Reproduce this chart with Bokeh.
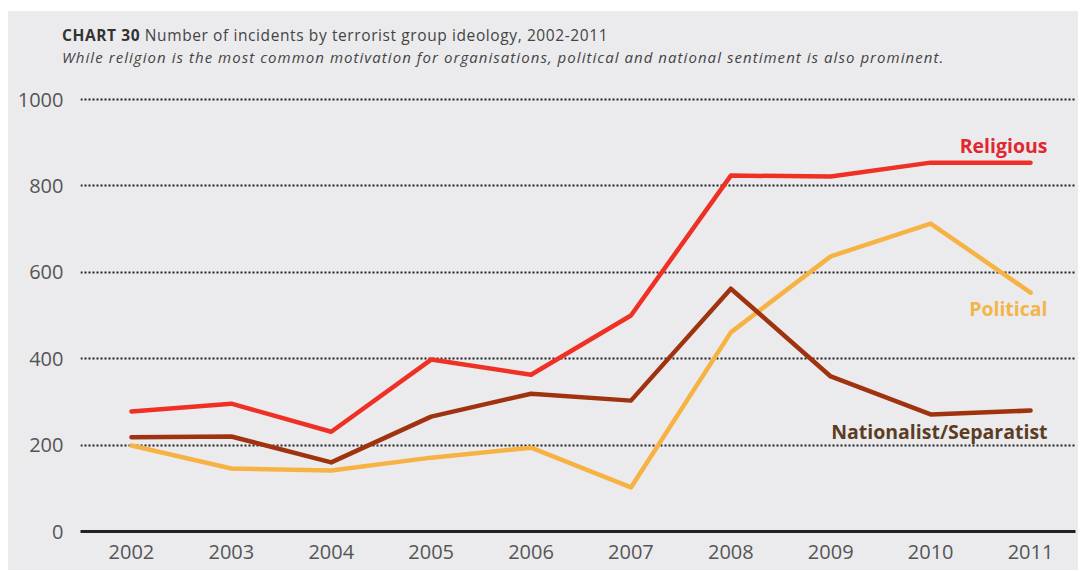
from bokeh.plotting import figure
from bokeh.models import FixedTicker, Range1d, Div
from bokeh.layouts import column
from bokeh.core.properties import value
from bokeh.embed import file_html
from bokeh.resources import INLINE

years = [2002, 2003, 2004, 2005, 2006, 2007, 2008, 2009, 2010, 2011]
religious = [278, 296, 231, 398, 363, 500, 824, 822, 854, 854]
political = [199, 146, 141, 171, 194, 102, 461, 637, 713, 553]
nationalist = [218, 220, 160, 266, 319, 303, 562, 359, 271, 280]
y_ticks = [0, 200, 400, 600, 800, 1000]

series_names = ["Religious", "Political", "Nationalist/Separatist"]
series_values = [religious, political, nationalist]
line_colors = ["#ee3124", "#f6b344", "#a0330f"]
label_colors = ["#e0282e", "#f3b54a", "#5c3d24"]
label_dy = [39, -37, -49]

chart_no = "CHART 30"
title = "Number of incidents by terrorist group ideology, 2002-2011"
subtitle = ("While religion is the most common motivation for organisations, "
            "political and national sentiment is also prominent.")

FONT = "Open Sans"
BG = "#ebebee"

header = Div(
    text=(f'<div style="padding:13px 0 0 54px; line-height:22px; font-family:\'{FONT}\'; '
          f'font-size:15.5px; letter-spacing:0.6px; color:#444444; white-space:nowrap;">'
          f'<span style="font-weight:bold; color:#333333;">{chart_no}</span> {title}<br>'
          f'<span style="font-style:italic; font-size:15px; letter-spacing:1.05px;">{subtitle}</span></div>'),
    width=1070, height=70, margin=0, styles={"background-color": BG})

p = figure(width=1070, height=489, output_backend="svg", toolbar_location=None,
           x_range=Range1d(2001.49, 2011.45), y_range=Range1d(0, 1021),
           min_border_left=72, min_border_right=3, min_border_top=9,
           min_border_bottom=39, background_fill_color=BG, border_fill_color=BG,
           outline_line_color=None, margin=0)

p.xaxis.ticker = FixedTicker(ticks=years)
p.yaxis.ticker = FixedTicker(ticks=y_ticks)
p.xaxis.axis_line_color = "#222222"
p.xaxis.axis_line_width = 3
p.xaxis.major_tick_line_color = None
p.xaxis.minor_tick_line_color = None
p.xaxis.major_label_standoff = 7
p.yaxis.axis_line_color = None
p.yaxis.major_tick_line_color = None
p.yaxis.minor_tick_line_color = None
p.yaxis.major_label_standoff = 11
for ax in (p.xaxis, p.yaxis):
    ax.major_label_text_font = FONT
    ax.major_label_text_font_size = "20px"
    ax.major_label_text_color = "#555555"

p.xgrid.grid_line_color = None
p.ygrid.grid_line_color = "#222222"
p.ygrid.grid_line_width = 1.8
p.ygrid.grid_line_dash = "2 2"
p.ygrid.ticker = FixedTicker(ticks=y_ticks[1:])

for name, vals, col, lcol, dy in zip(series_names, series_values, line_colors, label_colors, label_dy):
    p.line(years, vals, line_color=col, line_width=4.5, line_cap="round", line_join="round")
    p.text(x=[years[-1]], y=[vals[-1] + dy], text=[name], x_offset=17,
           text_align="right", text_baseline="middle", text_color=lcol,
           text_font=value(FONT), text_font_style="bold", text_font_size="19.5px")

root = column(header, p, spacing=0, margin=(11, 0, 0, 8),
              styles={"background-color": BG})

open("out.html", "w").write(file_html(root, INLINE))
